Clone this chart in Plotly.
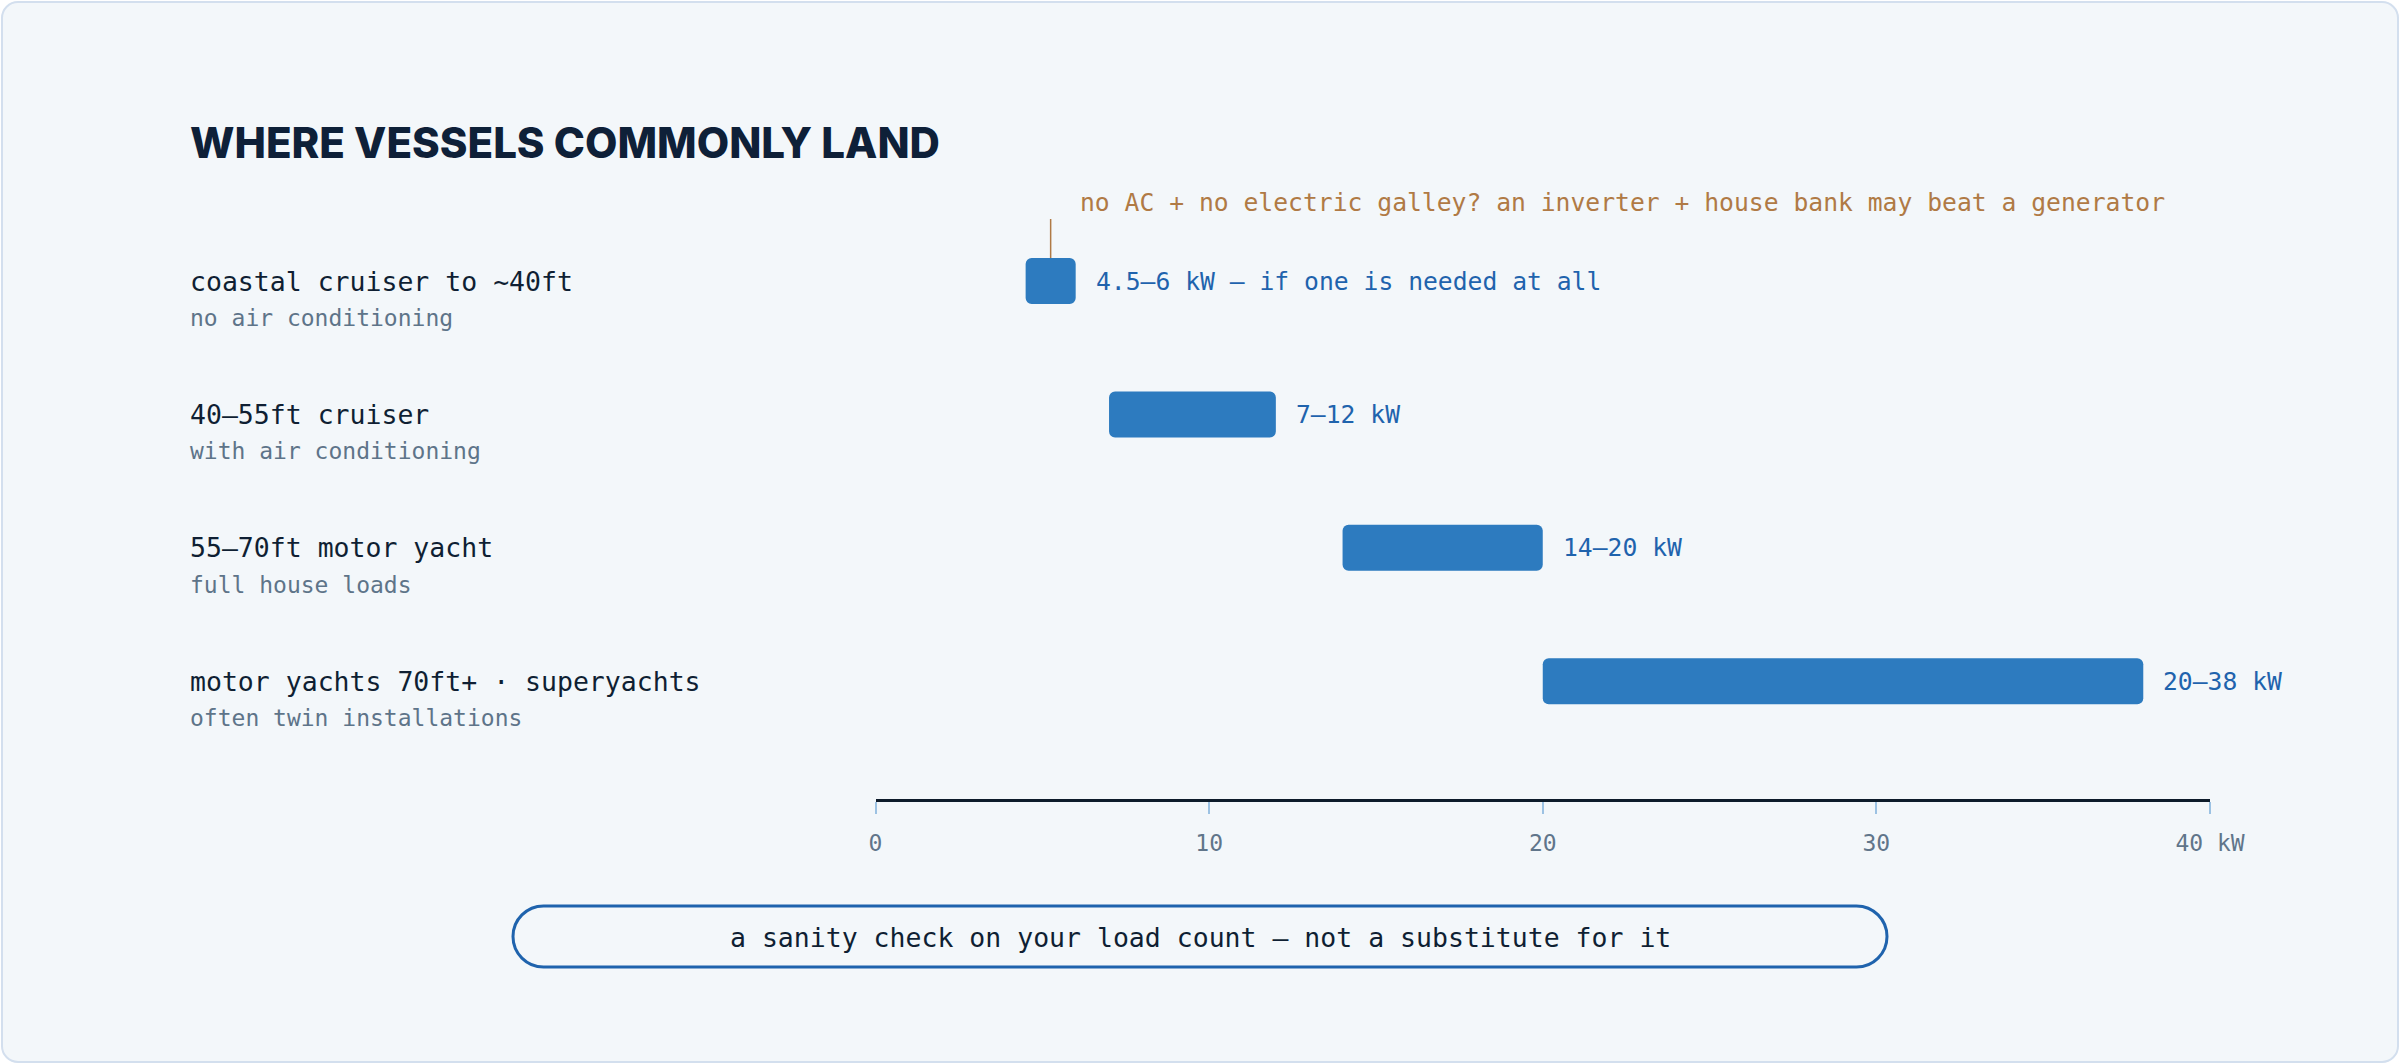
import plotly.graph_objects as go

# data
vessels = ["coastal cruiser to ~40ft", "40–55ft cruiser", "55–70ft motor yacht",
           "motor yachts 70ft+ · superyachts"]
notes = ["no air conditioning", "with air conditioning", "full house loads",
         "often twin installations"]
low_kw = [4.5, 7, 14, 20]
high_kw = [6, 12, 20, 38]
range_labels = ["4.5–6 kW — if one is needed at all", "7–12 kW", "14–20 kW", "20–38 kW"]
tick_vals = [0, 10, 20, 30, 40]
tick_text = ["0", "10", "20", "30", "40 kW"]
title = "WHERE VESSELS COMMONLY LAND"
callout = "no AC + no electric galley? an inverter + house bank may beat a generator"
footer = "a sanity check on your load count — not a substitute for it"

W, H = 2400, 1064
MONO = "DejaVu Sans Mono"
NAVY = "#0e2038"
BLUE = "#2d7bbf"
LABEL_BLUE = "#1f63ad"
BROWN = "#b07a45"
GREY = "#5e7489"


def px(x, y):
    return x / W, 1 - y / H


def rounded_path(x0, y0, x1, y1, r):
    # rounded rect in pixel space -> paper coords path
    k = 0.5523 * r
    pts = [("M", [(x0 + r, y0)]), ("L", [(x1 - r, y0)]),
           ("C", [(x1 - r + k, y0), (x1, y0 + r - k), (x1, y0 + r)]),
           ("L", [(x1, y1 - r)]),
           ("C", [(x1, y1 - r + k), (x1 - r + k, y1), (x1 - r, y1)]),
           ("L", [(x0 + r, y1)]),
           ("C", [(x0 + r - k, y1), (x0, y1 - r + k), (x0, y1 - r)]),
           ("L", [(x0, y0 + r)]),
           ("C", [(x0, y0 + r - k), (x0 + r - k, y0), (x0 + r, y0)])]
    s = ""
    for cmd, ps in pts:
        s += cmd + " ".join("%.5f,%.5f" % px(a, b) for a, b in ps) + " "
    return s + "Z"


fig = go.Figure()

fig.add_trace(go.Bar(
    orientation="h",
    y=vessels,
    x=[h - l for l, h in zip(low_kw, high_kw)],
    base=low_kw,
    width=0.345,
    marker=dict(color=BLUE, cornerradius=6, line=dict(width=0)),
    hoverinfo="skip",
))

# axis placement: 0 kW at x=875.5px, 40 kW at 2210px, axis line at y=799px
row0, step = 281, 133.4
y_bottom = 799
fig.update_layout(
    width=W, height=H,
    margin=dict(l=0, r=0, t=0, b=0),
    paper_bgcolor="white",
    plot_bgcolor="rgba(0,0,0,0)",
    showlegend=False,
    xaxis=dict(domain=[875.5 / W, 2210 / W], range=[0, 40], showgrid=False, zeroline=False,
               showline=True, linecolor="#0d1b2a", linewidth=3,
               ticks="outside", ticklen=12, tickwidth=1.5, tickcolor="#9cc2e3",
               tickvals=tick_vals, ticktext=tick_text, ticklabelstandoff=9,
               tickfont=dict(family=MONO, size=23, color="#60758a"),
               automargin=False, fixedrange=True),
    yaxis=dict(domain=[1 - y_bottom / H, 1], type="category", categoryarray=vessels,
               range=[(y_bottom - row0) / step, -row0 / step],
               visible=False, fixedrange=True),
)

shapes = [
    dict(type="path", xref="paper", yref="paper", layer="below",
         path=rounded_path(2, 2, W - 2, H - 2, 16),
         fillcolor="#f3f7fa", line=dict(color="#d3dfee", width=2)),
    dict(type="path", xref="paper", yref="paper",
         path=rounded_path(513, 906, 1887, 967, 30.5),
         fillcolor="rgba(0,0,0,0)", line=dict(color=LABEL_BLUE, width=3)),
]
mid0 = (low_kw[0] + high_kw[0]) / 2
shapes.append(dict(type="line", xref="x", yref="paper", x0=mid0, x1=mid0,
                   y0=px(0, 219)[1], y1=px(0, 258)[1], line=dict(color=BROWN, width=1.5)))

ann = [
    dict(text=title, xref="paper", yref="paper", x=188 / W, y=px(0, 142)[1],
         xanchor="left", yanchor="middle", showarrow=False,
         font=dict(family="Inter", size=42, weight=800, color=NAVY)),
    dict(text=callout, xref="x", yref="paper", x=mid0, y=px(0, 203)[1], xshift=27,
         xanchor="left", yanchor="middle", showarrow=False,
         font=dict(family=MONO, size=24.7, color=BROWN)),
    dict(text=footer, xref="paper", yref="paper", x=0.5, y=px(0, 937)[1],
         xanchor="center", yanchor="middle", showarrow=False,
         font=dict(family=MONO, size=26.5, color="#0f1f33")),
]
for v, n, h, lab in zip(vessels, notes, high_kw, range_labels):
    ann.append(dict(text=v, xref="paper", yref="y", x=188 / W, y=v, xanchor="left",
                    yanchor="middle", showarrow=False,
                    font=dict(family=MONO, size=26.5, color="#0f1f33")))
    ann.append(dict(text=n, xref="paper", yref="y", x=188 / W, y=v, yshift=-37,
                    xanchor="left", yanchor="middle", showarrow=False,
                    font=dict(family=MONO, size=23, color=GREY)))
    ann.append(dict(text=lab, xref="x", yref="y", x=h, y=v, xshift=18, xanchor="left",
                    yanchor="middle", showarrow=False,
                    font=dict(family=MONO, size=24.7, color=LABEL_BLUE)))

fig.update_layout(shapes=shapes, annotations=ann)
fig.write_html("out.html", config={"displayModeBar": False},
               post_script="document.body.style.margin='0';document.body.style.overflow='hidden';")
